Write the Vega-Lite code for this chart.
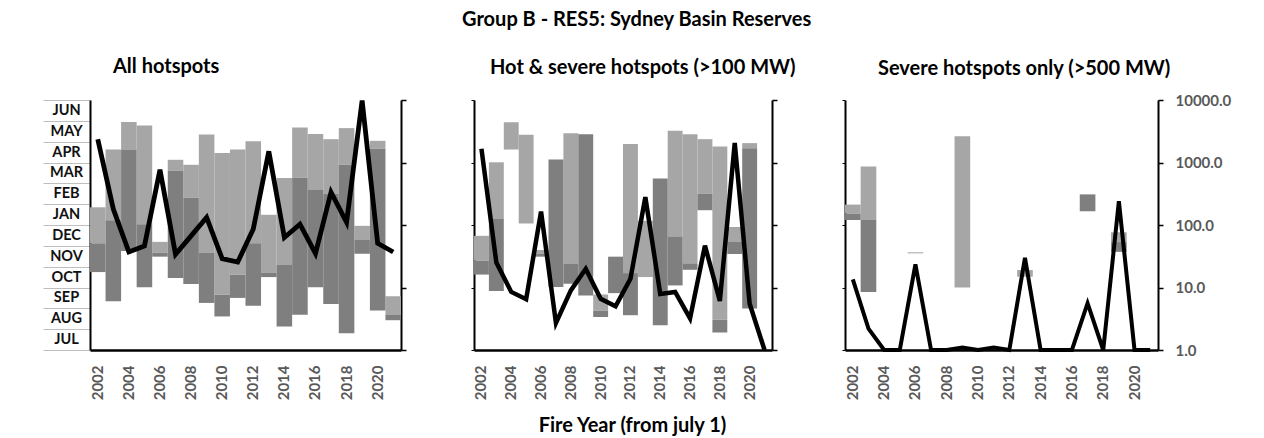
{
  "$schema": "https://vega.github.io/schema/vega-lite/v6.json",
  "background": "white",
  "padding": {"left": 42, "top": 9, "right": 5, "bottom": 0},
  "config": {"font": "Lato", "view": {"stroke": null}},
  "title": {"text": "Group B - RES5: Sydney Basin Reserves", "fontSize": 20, "fontWeight": "bold", "color": "black", "anchor": "middle", "dx": 0, "offset": 27},
  "bounds": "flush",
  "spacing": 73,
  "datasets": {
    "all": [
      {"year": 2002, "lo": 5.12, "hi": 6.85, "dlo": 3.74, "dhi": 5.12, "v": 2350},
      {"year": 2003, "lo": 6.23, "hi": 9.62, "dlo": 2.34, "dhi": 6.23, "v": 180},
      {"year": 2004, "lo": 9.62, "hi": 10.94, "dlo": 4.75, "dhi": 9.62, "v": 37},
      {"year": 2005, "lo": 6.04, "hi": 10.78, "dlo": 3.01, "dhi": 6.04, "v": 46},
      {"year": 2006, "lo": 4.67, "hi": 5.19, "dlo": 4.48, "dhi": 4.67, "v": 764},
      {"year": 2007, "lo": 8.62, "hi": 9.13, "dlo": 3.46, "dhi": 8.62, "v": 34},
      {"year": 2008, "lo": 7.30, "hi": 8.89, "dlo": 3.17, "dhi": 7.30, "v": 67},
      {"year": 2009, "lo": 4.67, "hi": 10.34, "dlo": 2.26, "dhi": 4.67, "v": 132},
      {"year": 2010, "lo": 2.66, "hi": 9.46, "dlo": 1.61, "dhi": 2.66, "v": 29},
      {"year": 2011, "lo": 3.62, "hi": 9.62, "dlo": 2.50, "dhi": 3.62, "v": 25.5},
      {"year": 2012, "lo": 5.12, "hi": 10.02, "dlo": 2.13, "dhi": 5.12, "v": 86},
      {"year": 2013, "lo": 3.70, "hi": 6.49, "dlo": 3.50, "dhi": 3.70, "v": 1510},
      {"year": 2014, "lo": 4.08, "hi": 8.26, "dlo": 1.13, "dhi": 4.08, "v": 63},
      {"year": 2015, "lo": 8.26, "hi": 10.68, "dlo": 1.69, "dhi": 8.26, "v": 103},
      {"year": 2016, "lo": 7.68, "hi": 10.37, "dlo": 3.01, "dhi": 7.68, "v": 35},
      {"year": 2017, "lo": 7.49, "hi": 10.12, "dlo": 2.21, "dhi": 7.49, "v": 334},
      {"year": 2018, "lo": 8.91, "hi": 10.65, "dlo": 0.81, "dhi": 8.91, "v": 110},
      {"year": 2019, "lo": 5.28, "hi": 5.96, "dlo": 4.62, "dhi": 5.28, "v": 9800},
      {"year": 2020, "lo": 9.66, "hi": 10.04, "dlo": 1.90, "dhi": 9.66, "v": 51},
      {"year": 2021, "lo": 1.68, "hi": 2.58, "dlo": 1.43, "dhi": 1.68, "v": 37}
    ],
    "hot": [
      {"year": 2002, "lo": 4.29, "hi": 5.48, "dlo": 3.62, "dhi": 4.29, "v": 1660},
      {"year": 2003, "lo": 6.31, "hi": 9.01, "dlo": 2.83, "dhi": 6.31, "v": 25},
      {"year": 2004, "lo": 9.62, "hi": 10.93, "dlo": null, "dhi": null, "v": 8.5},
      {"year": 2005, "lo": 6.07, "hi": 10.33, "dlo": null, "dhi": null, "v": 6.5},
      {"year": 2006, "lo": 4.61, "hi": 4.80, "dlo": 4.48, "dhi": 4.61, "v": 164},
      {"year": 2007, "lo": null, "hi": null, "dlo": 3.02, "dhi": 9.14, "v": 2.7},
      {"year": 2008, "lo": 4.13, "hi": 10.41, "dlo": 3.18, "dhi": 4.13, "v": 9},
      {"year": 2009, "lo": null, "hi": null, "dlo": 2.62, "dhi": 10.36, "v": 19.9},
      {"year": 2010, "lo": 1.88, "hi": 2.67, "dlo": 1.59, "dhi": 1.88, "v": 6.6},
      {"year": 2011, "lo": null, "hi": null, "dlo": 2.73, "dhi": 4.48, "v": 5},
      {"year": 2012, "lo": 3.69, "hi": 9.89, "dlo": 1.67, "dhi": 3.69, "v": 13.8},
      {"year": 2013, "lo": 3.50, "hi": 6.20, "dlo": null, "dhi": null, "v": 280},
      {"year": 2014, "lo": null, "hi": null, "dlo": 1.19, "dhi": 8.23, "v": 7.9},
      {"year": 2015, "lo": 5.45, "hi": 10.52, "dlo": 3.10, "dhi": 5.45, "v": 8.5},
      {"year": 2016, "lo": 4.16, "hi": 10.36, "dlo": 3.85, "dhi": 4.16, "v": 3.2},
      {"year": 2017, "lo": 7.50, "hi": 10.12, "dlo": 6.71, "dhi": 7.50, "v": 46.7},
      {"year": 2018, "lo": 1.46, "hi": 9.77, "dlo": 0.84, "dhi": 1.46, "v": 6.1},
      {"year": 2019, "lo": 5.21, "hi": 5.91, "dlo": 4.61, "dhi": 5.21, "v": 2050},
      {"year": 2020, "lo": 9.69, "hi": 9.93, "dlo": 1.99, "dhi": 9.69, "v": 5.5},
      {"year": 2021, "lo": null, "hi": null, "dlo": null, "dhi": null, "v": 1}
    ],
    "severe": [
      {"year": 2002, "lo": 6.55, "hi": 6.98, "dlo": 6.24, "dhi": 6.55, "v": 13.5},
      {"year": 2003, "lo": 6.27, "hi": 8.81, "dlo": 2.79, "dhi": 6.27, "v": 2.2},
      {"year": 2004, "lo": null, "hi": null, "dlo": null, "dhi": null, "v": 1},
      {"year": 2005, "lo": null, "hi": null, "dlo": null, "dhi": null, "v": 1},
      {"year": 2006, "lo": 4.64, "hi": 4.69, "dlo": null, "dhi": null, "v": 23.4},
      {"year": 2007, "lo": null, "hi": null, "dlo": null, "dhi": null, "v": 1},
      {"year": 2008, "lo": null, "hi": null, "dlo": null, "dhi": null, "v": 1},
      {"year": 2009, "lo": 3.00, "hi": 10.26, "dlo": null, "dhi": null, "v": 1.1},
      {"year": 2010, "lo": null, "hi": null, "dlo": null, "dhi": null, "v": 1},
      {"year": 2011, "lo": null, "hi": null, "dlo": null, "dhi": null, "v": 1.1},
      {"year": 2012, "lo": null, "hi": null, "dlo": null, "dhi": null, "v": 1},
      {"year": 2013, "lo": 3.52, "hi": 3.84, "dlo": null, "dhi": null, "v": 29.7},
      {"year": 2014, "lo": null, "hi": null, "dlo": null, "dhi": null, "v": 1},
      {"year": 2015, "lo": null, "hi": null, "dlo": null, "dhi": null, "v": 1},
      {"year": 2016, "lo": null, "hi": null, "dlo": null, "dhi": null, "v": 1},
      {"year": 2017, "lo": null, "hi": null, "dlo": 6.66, "dhi": 7.47, "v": 5.6},
      {"year": 2018, "lo": null, "hi": null, "dlo": null, "dhi": null, "v": 1},
      {"year": 2019, "lo": 5.18, "hi": 5.65, "dlo": 4.71, "dhi": 5.18, "v": 240},
      {"year": 2020, "lo": null, "hi": null, "dlo": null, "dhi": null, "v": 1},
      {"year": 2021, "lo": null, "hi": null, "dlo": null, "dhi": null, "v": 1}
    ]
  },
  "hconcat": [
    {
      "width": 311, "height": 250,
      "data": {"name": "all"},
      "title": {"text": "All hotspots", "anchor": "start", "frame": "group", "dx": 23, "offset": 14, "fontSize": 20, "fontWeight": "bold", "color": "black"},
      "encoding": {
        "x": {"field": "year", "type": "ordinal", "scale": {"paddingInner": 0, "paddingOuter": 0},
          "axis": {"labelExpr": "datum.value % 2 == 0 ? datum.label : ''", "labelAngle": -90, "labelAlign": "right", "labelBaseline": "middle", "labelFontSize": 15, "labelFontWeight": "bold", "labelColor": "#595959", "labelPadding": 15, "labelOverlap": false, "ticks": false, "domainColor": "black", "domainWidth": 2.5, "title": null}}
      },
      "layer": [
        {"mark": {"type": "bar", "color": "#A6A6A6"},
         "encoding": {
           "y": {"field": "lo", "type": "quantitative", "scale": {"domain": [0, 12], "nice": false, "zero": false},
             "axis": {"orient": "left", "values": [0,1,2,3,4,5,6,7,8,9,10,11,12], "labelExpr": "['','JUL','AUG','SEP','OCT','NOV','DEC','JAN','FEB','MAR','APR','MAY','JUN'][datum.value]", "tickSize": 47, "tickColor": "#BFBFBF", "tickWidth": 1, "domainColor": "black", "domainWidth": 2, "labelOffset": 10.4, "labelPadding": -23, "labelAlign": "center", "labelBaseline": "middle", "labelFontSize": 14.5, "labelFontWeight": "bold", "labelColor": "#111111", "labelOverlap": false, "labelFlush": false, "labelBound": false, "grid": false, "title": null}},
           "y2": {"field": "hi"}
         }},
        {"mark": {"type": "bar", "color": "#7F7F7F"},
         "encoding": {
           "y": {"field": "dlo", "type": "quantitative", "scale": {"domain": [0, 12], "nice": false, "zero": false}, "axis": null},
           "y2": {"field": "dhi"}
         }},
        {"mark": {"type": "line", "color": "black", "strokeWidth": 4.8, "strokeJoin": "miter"},
         "encoding": {
           "y": {"field": "v", "type": "quantitative", "scale": {"type": "log", "domain": [1, 10000], "nice": false},
             "axis": {"orient": "right", "values": [1, 10, 100, 1000, 10000], "labels": false, "tickSize": 5, "tickColor": "black", "tickWidth": 1.5, "domainColor": "black", "domainWidth": 2, "grid": false, "title": null}}
         }}
      ],
      "resolve": {"scale": {"y": "independent"}}
    },
    {
      "width": 298, "height": 250,
      "data": {"name": "hot"},
      "title": {"text": "Hot & severe hotspots (>100 MW)", "anchor": "start", "frame": "group", "dx": 16, "offset": 21, "fontSize": 20, "fontWeight": "bold", "color": "black"},
      "encoding": {
        "x": {"field": "year", "type": "ordinal", "scale": {"paddingInner": 0, "paddingOuter": 0},
          "axis": {"labelExpr": "datum.value % 2 == 0 ? datum.label : ''", "labelAngle": -90, "labelAlign": "right", "labelBaseline": "middle", "labelFontSize": 15, "labelFontWeight": "bold", "labelColor": "#595959", "labelPadding": 15, "labelOverlap": false, "ticks": false, "domainColor": "black", "domainWidth": 2.5,
            "title": "Fire Year (from july 1)", "titleFontSize": 20, "titleFontWeight": "bold", "titleColor": "black", "titleX": 158, "titleAlign": "center", "titlePadding": 16}}
      },
      "layer": [
        {"mark": {"type": "bar", "color": "#A6A6A6"},
         "encoding": {
           "y": {"field": "lo", "type": "quantitative", "scale": {"domain": [0, 12], "nice": false, "zero": false},
             "axis": {"orient": "left", "values": [0, 3, 6, 9, 12], "labels": false, "tickSize": 3, "tickColor": "black", "tickWidth": 1, "domainColor": "black", "domainWidth": 2, "grid": false, "title": null}},
           "y2": {"field": "hi"}
         }},
        {"mark": {"type": "bar", "color": "#7F7F7F"},
         "encoding": {
           "y": {"field": "dlo", "type": "quantitative", "scale": {"domain": [0, 12], "nice": false, "zero": false}, "axis": null},
           "y2": {"field": "dhi"}
         }},
        {"mark": {"type": "line", "color": "black", "strokeWidth": 4.5, "strokeJoin": "miter"},
         "encoding": {
           "y": {"field": "v", "type": "quantitative", "scale": {"type": "log", "domain": [1, 10000], "nice": false},
             "axis": {"orient": "right", "values": [1, 10, 100, 1000, 10000], "labels": false, "tickSize": 5, "tickColor": "black", "tickWidth": 1.5, "domainColor": "black", "domainWidth": 2, "grid": false, "title": null}}
         }}
      ],
      "resolve": {"scale": {"y": "independent"}}
    },
    {
      "width": 313, "height": 250,
      "data": {"name": "severe"},
      "title": {"text": "Severe hotspots only (>500 MW)", "anchor": "start", "frame": "group", "dx": 33, "offset": 14, "fontSize": 20, "fontWeight": "bold", "color": "black"},
      "encoding": {
        "x": {"field": "year", "type": "ordinal", "scale": {"paddingInner": 0, "paddingOuter": 0},
          "axis": {"labelExpr": "datum.value % 2 == 0 ? datum.label : ''", "labelAngle": -90, "labelAlign": "right", "labelBaseline": "middle", "labelFontSize": 15, "labelFontWeight": "bold", "labelColor": "#595959", "labelPadding": 15, "labelOverlap": false, "ticks": false, "domainColor": "black", "domainWidth": 2.5, "title": null}}
      },
      "layer": [
        {"mark": {"type": "bar", "color": "#A6A6A6"},
         "encoding": {
           "y": {"field": "lo", "type": "quantitative", "scale": {"domain": [0, 12], "nice": false, "zero": false},
             "axis": {"orient": "left", "values": [0, 3, 6, 9, 12], "labels": false, "tickSize": 3, "tickColor": "black", "tickWidth": 1, "domainColor": "black", "domainWidth": 2, "grid": false, "title": null}},
           "y2": {"field": "hi"}
         }},
        {"mark": {"type": "bar", "color": "#7F7F7F"},
         "encoding": {
           "y": {"field": "dlo", "type": "quantitative", "scale": {"domain": [0, 12], "nice": false, "zero": false}, "axis": null},
           "y2": {"field": "dhi"}
         }},
        {"mark": {"type": "line", "color": "black", "strokeWidth": 4, "strokeJoin": "miter"},
         "encoding": {
           "y": {"field": "v", "type": "quantitative", "scale": {"type": "log", "domain": [1, 10000], "nice": false},
             "axis": {"orient": "right", "values": [1, 10, 100, 1000, 10000], "format": ".1f", "labelFontSize": 15, "labelFontWeight": "bold", "labelColor": "#595959", "labelPadding": 12, "labelFlush": false, "labelOverlap": false, "tickSize": 5, "tickColor": "black", "tickWidth": 1.5, "domainColor": "black", "domainWidth": 2, "grid": false, "title": null}}
         }}
      ],
      "resolve": {"scale": {"y": "independent"}}
    }
  ]
}
